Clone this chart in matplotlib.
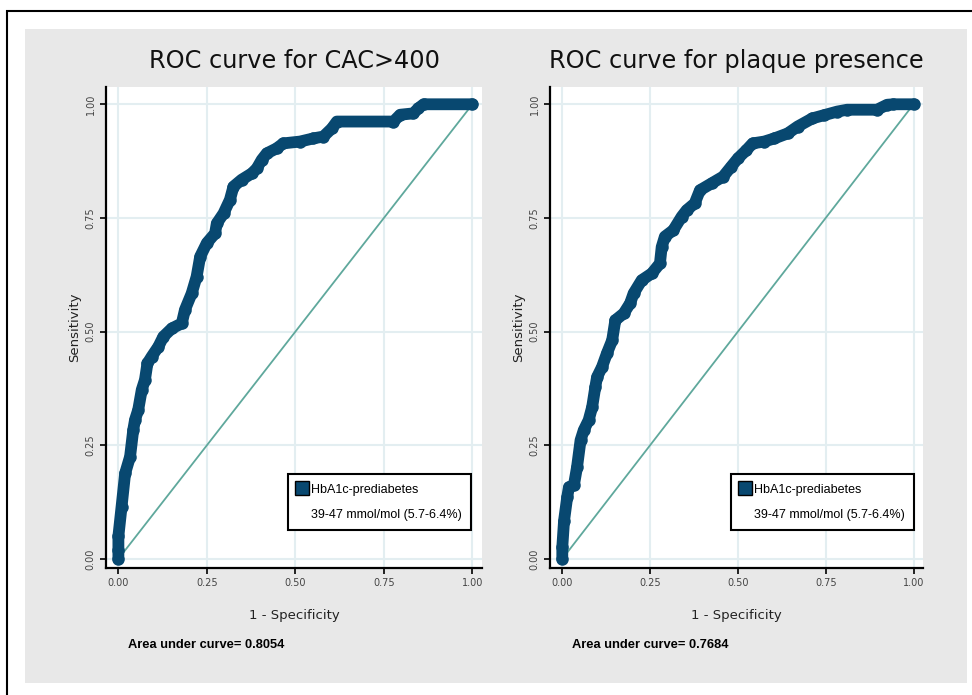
import matplotlib.pyplot as plt
from matplotlib.lines import Line2D
from matplotlib.patches import Rectangle

# ROC points (1 - specificity, sensitivity)
cac_fpr = [0.0, 0.0, 0.0, 0.009, 0.019, 0.033, 0.042, 0.047, 0.056, 0.066, 0.075, 0.082,
           0.094, 0.113, 0.127, 0.151, 0.179, 0.188, 0.207, 0.221, 0.231, 0.250, 0.273,
           0.278, 0.297, 0.315, 0.325, 0.348, 0.377, 0.391, 0.405, 0.419, 0.447, 0.466,
           0.513, 0.551, 0.579, 0.603, 0.617, 0.777, 0.796, 0.833, 0.847, 0.862, 1.0]
cac_tpr = [0.0, 0.02, 0.05, 0.115, 0.188, 0.225, 0.284, 0.306, 0.328, 0.372, 0.394, 0.430,
           0.445, 0.467, 0.489, 0.507, 0.518, 0.548, 0.584, 0.621, 0.665, 0.695, 0.716,
           0.738, 0.760, 0.790, 0.819, 0.834, 0.848, 0.859, 0.878, 0.892, 0.903, 0.914,
           0.918, 0.925, 0.929, 0.947, 0.962, 0.962, 0.977, 0.980, 0.991, 1.0, 1.0]

plq_fpr = [0.0, 0.0, 0.005, 0.014, 0.019, 0.033, 0.042, 0.052, 0.061, 0.075, 0.085, 0.094,
           0.099, 0.113, 0.127, 0.142, 0.151, 0.175, 0.193, 0.203, 0.226, 0.255, 0.278,
           0.283, 0.292, 0.316, 0.340, 0.354, 0.377, 0.392, 0.425, 0.458, 0.481, 0.500,
           0.524, 0.542, 0.575, 0.604, 0.642, 0.670, 0.712, 0.745, 0.783, 0.811, 0.896,
           0.925, 0.943, 1.0]
plq_tpr = [0.0, 0.026, 0.084, 0.136, 0.158, 0.162, 0.202, 0.261, 0.283, 0.305, 0.334, 0.378,
           0.400, 0.422, 0.452, 0.481, 0.525, 0.540, 0.562, 0.584, 0.613, 0.628, 0.650,
           0.686, 0.709, 0.723, 0.753, 0.767, 0.782, 0.811, 0.826, 0.841, 0.863, 0.881,
           0.899, 0.914, 0.918, 0.925, 0.936, 0.951, 0.969, 0.976, 0.984, 0.988, 0.988,
           0.999, 1.0, 1.0]

titles = ["ROC curve for CAC>400", "ROC curve for plaque presence"]
auc_labels = ["Area under curve= 0.8054", "Area under curve= 0.7684"]
legend_labels = ["HbA1c-prediabetes", "39-47 mmol/mol (5.7-6.4%)"]
ticks = [0, 0.25, 0.5, 0.75, 1.0]
tick_labels = ["0.00", "0.25", "0.50", "0.75", "1.00"]

curve_col = "#084870"
ref_col = "#5fa89c"
grid_col = "#e3eef1"

W, H = 972, 695
fig = plt.figure(figsize=(W / 100, H / 100), dpi=100)
fig.patch.set_facecolor("white")

# outer frame and gray panel, kept behind the axes
fig.add_artist(Rectangle((7 / W, -0.01), 1.02, 1 - 11 / H + 0.01, transform=fig.transFigure,
                         facecolor="none", edgecolor="black", lw=1.5, zorder=-10))
fig.add_artist(Rectangle((25 / W, 1 - 683 / H), (967 - 25) / W, (683 - 29) / H,
                         transform=fig.transFigure, facecolor="#e8e8e8", edgecolor="none",
                         zorder=-10))

panels = [
    (106, 482, cac_fpr, cac_tpr),
    (550, 923, plq_fpr, plq_tpr),
]
top_px, bot_px = 87, 568

for i, (l, r, fpr, tpr) in enumerate(panels):
    ax = fig.add_axes([l / W, 1 - bot_px / H, (r - l) / W, (bot_px - top_px) / H])
    ax.set_facecolor("white")
    ax.set_xlim(-0.035, 1.027)
    ax.set_ylim(-0.02, 1.038)
    ax.set_xticks(ticks)
    ax.set_yticks(ticks)
    ax.set_xticklabels(tick_labels, fontsize=7, color="#444444")
    ax.set_yticklabels(tick_labels, fontsize=7, color="#444444", rotation=90, va="center")
    ax.tick_params(length=4, width=1.2, colors="black", labelcolor="#444444")
    ax.grid(True, color=grid_col, lw=1.5)
    ax.set_axisbelow(True)
    for s in ["top", "right"]:
        ax.spines[s].set_visible(False)
    for s in ["left", "bottom"]:
        ax.spines[s].set_linewidth(1.6)

    ax.plot([0, 1], [0, 1], color=ref_col, lw=1.3, zorder=2)
    ax.plot(fpr, tpr, color=curve_col, lw=8.5, solid_joinstyle="round",
            solid_capstyle="round", marker="o", ms=9, mec=curve_col, mew=0, zorder=3)

    ax.set_title(titles[i], fontsize=17.3, pad=14, color="#111111")
    ax.set_xlabel("1 - Specificity", fontsize=9.5, labelpad=15, color="#222222")
    ax.set_ylabel("Sensitivity", fontsize=9.5, labelpad=3, color="#222222")
    ax.text(0.058, -0.16, auc_labels[i], transform=ax.transAxes, fontsize=9.3,
            fontweight="bold", family="Liberation Sans", va="center")

    handles = [Line2D([], [], ls="none", marker="s", ms=10, mfc=curve_col, mec="black", mew=1),
               Line2D([], [], ls="none")]
    leg = ax.legend(handles, legend_labels, loc="lower left", bbox_to_anchor=(0.484, 0.079),
                    borderaxespad=0, fancybox=False, framealpha=1, edgecolor="black",
                    prop={"family": "Liberation Sans", "size": 9}, handlelength=0.8,
                    handletextpad=0.3, labelspacing=1.05, borderpad=0.75)
    leg.get_frame().set_linewidth(1.5)

fig.savefig("out.png", dpi=100)
